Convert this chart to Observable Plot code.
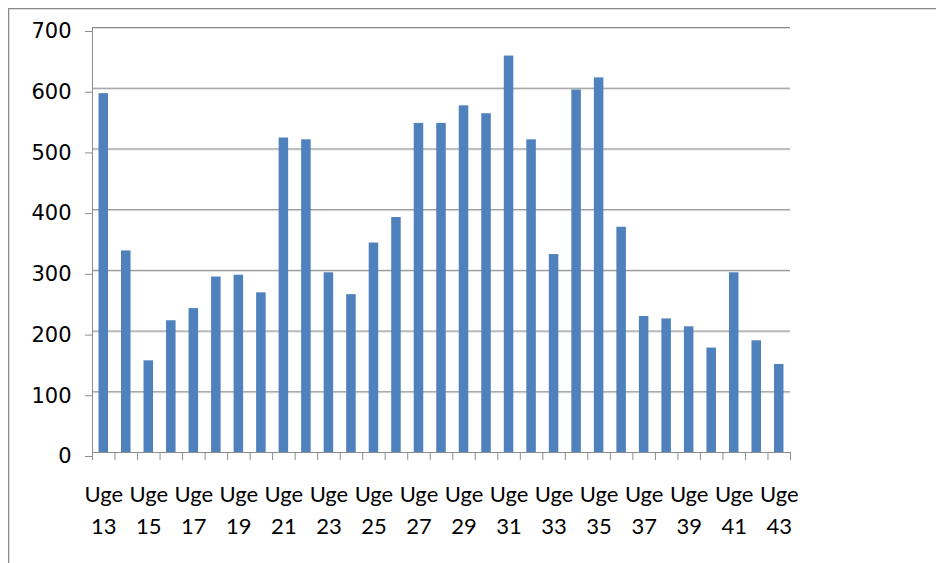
<!DOCTYPE html>
<html>
<head>
<meta charset="utf-8">
<script src="https://cdn.jsdelivr.net/npm/d3@7"></script>
<script src="https://cdn.jsdelivr.net/npm/@observablehq/plot@0.6"></script>
<style>
  html, body { margin: 0; padding: 0; background: #fff; overflow: hidden; }
  #wrap { position: relative; width: 936px; height: 563px; }
  #border { position: absolute; left: 8px; top: 8px; width: 2000px; height: 2000px;
            border-top: 1px solid #8c8c8c; border-left: 1px solid #8c8c8c;
            box-shadow: inset 1px 1px 0 #d9d9d9; pointer-events: none; z-index: 2; }
</style>
</head>
<body>
<div id="wrap"><div id="border"></div></div>
<script>
// Data
const weeks = [13,14,15,16,17,18,19,20,21,22,23,24,25,26,27,28,29,30,31,32,33,34,35,36,37,38,39,40,41,42,43];
const values = [591,332,151,217,237,289,292,263,518,515,296,260,345,387,542,542,571,558,653,515,326,597,617,371,224,220,207,172,296,184,145];
const labelWeeks = [13,15,17,19,21,23,25,27,29,31,33,35,37,39,41,43];
const yTicks = [0,100,200,300,400,500,600,700];

const data = weeks.map((w, i) => ({week: w, value: values[i]}));
const xDomain = [weeks[0] - 0.5, weeks[weeks.length - 1] + 0.5];
const boundaries = weeks.map(w => w - 0.5).concat([weeks[weeks.length - 1] + 0.5]);

const gridColor = "#8c8c8c";

const chart = Plot.plot({
  width: 936,
  height: 563,
  marginLeft: 92,
  marginRight: 146,
  marginTop: 27,
  marginBottom: 111,
  x: {domain: xDomain, axis: null},
  y: {domain: [0, 700], axis: null},
  marks: [
    // light shadow under gridlines
    Plot.ruleY(yTicks.slice(1), {stroke: "#dcdcdc", dy: 1}),
    Plot.ruleY(yTicks, {stroke: gridColor}),
    // y axis line
    Plot.ruleX([xDomain[0]], {stroke: gridColor}),
    // bars
    Plot.rectY(data, {
      x1: d => d.week - 0.5,
      x2: d => d.week + 0.5,
      y: "value",
      insetLeft: 6.5,
      insetRight: 6.5,
      fill: "#4f81bd"
    }),
    // x tick marks at category boundaries
    Plot.axisX(boundaries, {
      tickSize: 8,
      tickFormat: () => "",
      stroke: gridColor,
      label: null
    }),
    // x labels
    Plot.text(labelWeeks, {
      x: d => d,
      frameAnchor: "bottom",
      dy: 27,
      lineAnchor: "top",
      lineHeight: 1.45,
      text: d => `Uge\n${d}`,
      fontFamily: "Lato, 'Open Sans', sans-serif",
      fontSize: 22,
      fill: "#000"
    }),
    // y axis ticks and labels
    Plot.axisY(yTicks, {
      tickSize: 7,
      tickPadding: 14,
      stroke: gridColor,
      fill: "#000",
      fontFamily: "'DejaVu Sans', sans-serif",
      fontSize: 21,
      dy: 4,
      label: null
    })
  ]
});
chart.style.position = "absolute";
chart.style.left = "0";
chart.style.top = "0";
chart.style.maxWidth = "none";
document.getElementById("wrap").appendChild(chart);
</script>
</body>
</html>
